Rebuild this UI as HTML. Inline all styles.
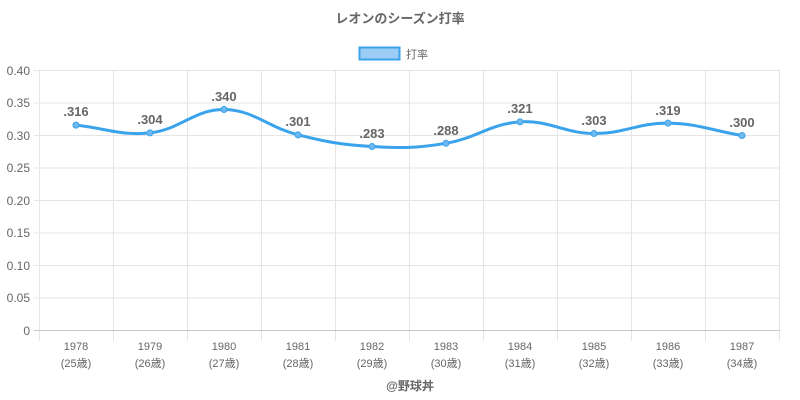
<!DOCTYPE html>
<html><head><meta charset="utf-8"><style>
body{margin:0;background:#fff;}
svg{display:block;font-family:"Liberation Sans","Noto Sans CJK JP",sans-serif;}
</style></head><body>
<svg width="800" height="400" viewBox="0 0 800 400" xmlns="http://www.w3.org/2000/svg">
<text x="400" y="23" text-anchor="middle" font-size="13" font-weight="bold" fill="#666">レオンのシーズン打率</text>
<rect x="359.5" y="47.5" width="40" height="12" fill="#9ccbf3" stroke="#3aa3eb" stroke-width="2"/>
<text x="406" y="58" font-size="11" fill="#666">打率</text>
<g stroke="#e5e5e5" stroke-width="1">
<line x1="39.5" y1="70.5" x2="780" y2="70.5"/>
<line x1="39.5" y1="103" x2="780" y2="103"/>
<line x1="39.5" y1="135.5" x2="780" y2="135.5"/>
<line x1="39.5" y1="168" x2="780" y2="168"/>
<line x1="39.5" y1="200.5" x2="780" y2="200.5"/>
<line x1="39.5" y1="233" x2="780" y2="233"/>
<line x1="39.5" y1="265.5" x2="780" y2="265.5"/>
<line x1="39.5" y1="298" x2="780" y2="298"/>
<line x1="34" y1="70.5" x2="39.5" y2="70.5"/><line x1="34" y1="103" x2="39.5" y2="103"/><line x1="34" y1="135.5" x2="39.5" y2="135.5"/><line x1="34" y1="168" x2="39.5" y2="168"/><line x1="34" y1="200.5" x2="39.5" y2="200.5"/><line x1="34" y1="233" x2="39.5" y2="233"/><line x1="34" y1="265.5" x2="39.5" y2="265.5"/><line x1="34" y1="298" x2="39.5" y2="298"/>
<line x1="39.5" y1="70" x2="39.5" y2="341"/><line x1="113.5" y1="70" x2="113.5" y2="341"/><line x1="187.5" y1="70" x2="187.5" y2="341"/><line x1="261.5" y1="70" x2="261.5" y2="341"/><line x1="335.5" y1="70" x2="335.5" y2="341"/><line x1="409.5" y1="70" x2="409.5" y2="341"/><line x1="483.5" y1="70" x2="483.5" y2="341"/><line x1="557.5" y1="70" x2="557.5" y2="341"/><line x1="631.5" y1="70" x2="631.5" y2="341"/><line x1="705.5" y1="70" x2="705.5" y2="341"/><line x1="779.5" y1="70" x2="779.5" y2="341"/>
</g>
<line x1="34" y1="330.5" x2="780" y2="330.5" stroke="#c8c8c8"/>
<g font-size="12" fill="#666" text-anchor="end">
<text x="30" y="75">0.40</text><text x="30" y="107">0.35</text><text x="30" y="140">0.30</text><text x="30" y="172">0.25</text><text x="30" y="205">0.20</text><text x="30" y="237">0.15</text><text x="30" y="270">0.10</text><text x="30" y="302">0.05</text><text x="30" y="335">0</text>
</g>
<g font-size="11" fill="#666" text-anchor="middle">
<text x="76" y="350">1978</text><text x="76" y="367">(25歳)</text>
<text x="150" y="350">1979</text><text x="150" y="367">(26歳)</text>
<text x="224" y="350">1980</text><text x="224" y="367">(27歳)</text>
<text x="298" y="350">1981</text><text x="298" y="367">(28歳)</text>
<text x="372" y="350">1982</text><text x="372" y="367">(29歳)</text>
<text x="446" y="350">1983</text><text x="446" y="367">(30歳)</text>
<text x="520" y="350">1984</text><text x="520" y="367">(31歳)</text>
<text x="594" y="350">1985</text><text x="594" y="367">(32歳)</text>
<text x="668" y="350">1986</text><text x="668" y="367">(33歳)</text>
<text x="742" y="350">1987</text><text x="742" y="367">(34歳)</text>
</g>
<text x="410" y="390" text-anchor="middle" font-size="12" font-weight="bold" fill="#666">@野球丼</text>
<path id="ln" fill="none" stroke="#3aa3eb" stroke-width="3"/>
<g id="pts" fill="#6cb8ef" stroke="#3aa3eb" stroke-width="1"></g>
<g font-size="13" font-weight="bold" fill="#666" text-anchor="middle">
<text x="76" y="116">.316</text><text x="150" y="124">.304</text><text x="224" y="101">.340</text><text x="298" y="126">.301</text><text x="372" y="138">.283</text><text x="446" y="135">.288</text><text x="520" y="113">.321</text><text x="594" y="125">.303</text><text x="668" y="115">.319</text><text x="742" y="127">.300</text>
</g>
</svg>
<script>
var v=[.316,.304,.340,.301,.283,.288,.321,.303,.319,.300];
var P=v.map(function(a,i){return [76+74*i,330.5-a/0.4*260];});
var t=0.4,d="M"+P[0][0]+","+P[0][1];
function cps(i){var p=P[Math.max(i-1,0)],c=P[i],n=P[Math.min(i+1,P.length-1)];
var d01=Math.hypot(c[0]-p[0],c[1]-p[1]),d12=Math.hypot(n[0]-c[0],n[1]-c[1]);
var s=d01+d12||1,fa=t*d01/s,fb=t*d12/s;
return [[c[0]-fa*(n[0]-p[0]),c[1]-fa*(n[1]-p[1])],[c[0]+fb*(n[0]-p[0]),c[1]+fb*(n[1]-p[1])]];}
var C=P.map(function(_,i){return cps(i);});
for(var i=1;i<P.length;i++){d+=" C"+C[i-1][1][0]+","+C[i-1][1][1]+" "+C[i][0][0]+","+C[i][0][1]+" "+P[i][0]+","+P[i][1];}
document.getElementById("ln").setAttribute("d",d);
var g=document.getElementById("pts");
P.forEach(function(p){var c=document.createElementNS("http://www.w3.org/2000/svg","circle");c.setAttribute("cx",p[0]);c.setAttribute("cy",p[1]);c.setAttribute("r",3);g.appendChild(c);});
</script>
</body></html>
